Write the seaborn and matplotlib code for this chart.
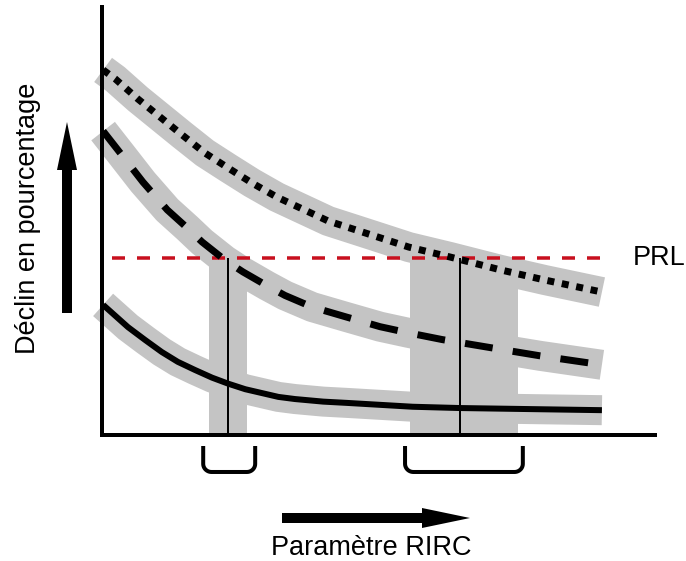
import numpy as np
import pandas as pd
import matplotlib
matplotlib.use("Agg")
import matplotlib.pyplot as plt
import seaborn as sns

# ---------------- data ----------------
dot_x = [0.02, 0.24, 0.65, 1.05, 1.45, 1.86, 2.28, 2.71, 3.16, 4.09, 4.81, 5.55, 6.29, 7.20, 8.01, 9.04]
dot_y = [85.3, 83.2, 78.5, 74.3, 70.1, 65.9, 62.4, 58.9, 55.6, 50.0, 47.0, 43.9, 41.6, 38.6, 36.2, 33.4]

dash_x = [0.02, 0.36, 0.74, 1.18, 1.54, 1.81, 2.22, 2.55, 2.98, 3.31, 3.80, 4.41, 5.03, 5.53, 6.15, 7.03, 7.92, 9.04]
dash_y = [71.0, 65.4, 59.1, 52.6, 48.4, 45.1, 40.9, 38.1, 34.9, 32.6, 29.9, 27.6, 25.3, 23.9, 22.3, 20.4, 18.5, 16.4]

solid_x = [0.02, 0.47, 0.78, 1.08, 1.37, 1.68, 1.99, 2.28, 2.59, 2.89, 3.19, 3.49, 4.00, 4.43, 5.62, 6.47, 9.04]
solid_y = [30.4, 25.2, 22.2, 19.4, 17.1, 15.2, 13.4, 12.0, 10.7, 9.8, 8.9, 8.4, 7.8, 7.5, 6.6, 6.3, 5.8]

prl_level = 41.4
prl_x = [0.18, 9.22]
threshold_x = [2.28, 6.47]
band_ranges = [(1.93, 2.62), (5.57, 7.52)]
bracket_ranges = [(1.83, 2.77), (5.48, 7.61)]

y_label = "Déclin en pourcentage"
x_label = "Paramètre RIRC"
prl_label = "PRL"

# ---------------- style ----------------
sns.set_style("white")
plt.rcParams['font.family'] = ['Liberation Sans', 'DejaVu Sans']

W, H = 686, 561
PX = 0.72  # points per pixel at dpi 100
GRAY = '#c4c4c4'
RED = '#c8101e'

fig = plt.figure(figsize=(W / 100, H / 100), dpi=100)
ax = fig.add_axes([102 / W, (H - 435) / H, 553 / W, 428 / H])
ax.set_xlim(0, 10)
ax.set_ylim(0, 100)
ax.set_xticks([])
ax.set_yticks([])
for s in ['top', 'right']:
    ax.spines[s].set_visible(False)
for s in ['left', 'bottom']:
    ax.spines[s].set_linewidth(4 * PX)
    ax.spines[s].set_color('black')
    ax.spines[s].set_zorder(6)

# gray uncertainty bands around the curves
for xs, ys in [(dot_x, dot_y), (dash_x, dash_y), (solid_x, solid_y)]:
    sns.lineplot(x=xs, y=ys, ax=ax, color=GRAY, linewidth=30 * PX,
                 solid_capstyle='butt', solid_joinstyle='round',
                 sort=False, estimator=None, clip_on=False, zorder=1)

# vertical gray bands
for x0, x1 in band_ranges:
    ax.fill_between([x0, x1], 0, prl_level, color=GRAY, linewidth=0, zorder=1)

# PRL dashed red line
sns.lineplot(x=prl_x, y=[prl_level, prl_level], ax=ax, color=RED,
             linewidth=3.5 * PX, linestyle=(0, (13 / 3.5, 12 / 3.5)),
             dash_capstyle='butt', sort=False, estimator=None, zorder=3)

# threshold vertical lines
ax.vlines(threshold_x, 0, prl_level, color='black', linewidth=2 * PX, zorder=4)

# black curves
sns.lineplot(x=dot_x, y=dot_y, ax=ax, color='black', linewidth=7 * PX,
             linestyle=(0, (1.0, 1.1)), dash_capstyle='butt',
             sort=False, estimator=None, zorder=5)
sns.lineplot(x=dash_x, y=dash_y, ax=ax, color='black', linewidth=7 * PX,
             linestyle=(0, (4.0, 2.9)), dash_capstyle='butt',
             sort=False, estimator=None, zorder=5)
sns.lineplot(x=solid_x, y=solid_y, ax=ax, color='black', linewidth=6 * PX,
             solid_capstyle='butt', solid_joinstyle='round',
             sort=False, estimator=None, zorder=5)

# brackets under the x axis
ytop, ybot = -2.57, -8.64
rx, ry = 0.15, 1.9
t = np.linspace(0, np.pi / 2, 12)
for x0, x1 in bracket_ranges:
    lx = x0 + rx - rx * np.cos(t)
    ly = ybot + ry - ry * np.sin(t)
    rxs = x1 - rx + rx * np.sin(t)
    rys = ybot + ry - ry * np.cos(t)
    bx = np.concatenate([[x0], lx, rxs, [x1]])
    by = np.concatenate([[ytop], ly, rys, [ytop]])
    ax.plot(bx, by, color='black', linewidth=4 * PX, clip_on=False,
            solid_capstyle='butt', solid_joinstyle='round')

# arrows
arrow_kw = dict(facecolor='black', edgecolor='black', width=10 * PX,
                headwidth=20 * PX, headlength=48 * PX, shrink=0, linewidth=0)
ax.annotate('', xy=(67, H - 122), xytext=(67, H - 313),
            xycoords='figure pixels', textcoords='figure pixels', arrowprops=arrow_kw)
ax.annotate('', xy=(470, H - 518), xytext=(282, H - 518),
            xycoords='figure pixels', textcoords='figure pixels', arrowprops=arrow_kw)

# texts
fig.text(28.5 / W, (H - 218.5) / H, y_label, rotation=90, ha='center', va='center',
         fontsize=19.5, color='black')
fig.text(371 / W, (H - 555) / H, x_label, ha='center', va='baseline',
         fontsize=19.5, color='black')
fig.text(633 / W, (H - 265) / H, prl_label, ha='left', va='baseline',
         fontsize=19.5, color='black')

fig.savefig('out.png', dpi=100)
